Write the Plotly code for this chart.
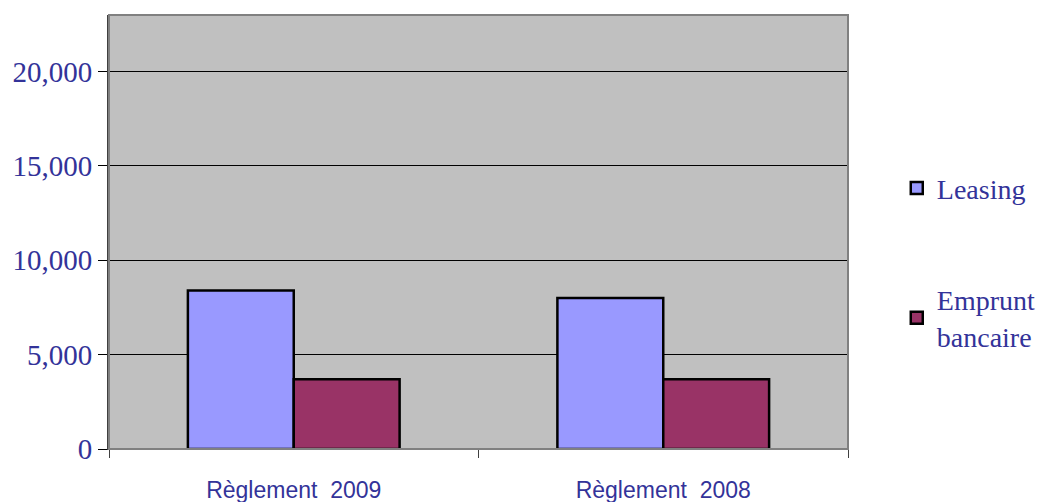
import plotly.graph_objects as go

categories = ["Règlement\u00a0\u00a02009", "Règlement\u00a0\u00a02008"]
leasing = [8400, 8000]
emprunt = [3700, 3700]
series_names = ["Leasing", "Emprunt<br>bancaire"]

BLUE = "#9999FF"
MAROON = "#993366"
TEXT = "#333399"
PLOT_BG = "#C0C0C0"

fig = go.Figure()
for name, vals, color, grp in [
    (series_names[0], leasing, BLUE, "a"),
    (series_names[1], emprunt, MAROON, "b"),
]:
    fig.add_trace(
        go.Bar(
            x=categories,
            y=vals,
            name=name,
            legendgroup=grp,
            marker=dict(color=color, line=dict(color="black", width=2.5)),
        )
    )

fig.update_layout(
    width=1042,
    height=502,
    margin=dict(l=109, r=194, t=15, b=53, autoexpand=False),
    paper_bgcolor="white",
    plot_bgcolor=PLOT_BG,
    barmode="group",
    bargap=0.427,
    bargroupgap=0,
    legend=dict(
        x=1.066,
        y=0.43,
        xanchor="left",
        yanchor="middle",
        font=dict(family="Liberation Serif", size=28, color=TEXT),
        tracegroupgap=72,
        traceorder="grouped",
        itemwidth=30,
    ),
    shapes=[
        dict(
            type="rect", xref="paper", yref="paper", x0=0, x1=1, y0=0, y1=1,
            line=dict(color="#808080", width=2), layer="above",
        )
    ],
)

fig.update_yaxes(
    range=[0, 23000],
    tickvals=[0, 5000, 10000, 15000, 20000],
    tickformat=",d",
    automargin=False,
    showgrid=True,
    gridcolor="black",
    gridwidth=1,
    zeroline=False,
    showline=True,
    linecolor="#404040",
    linewidth=2,
    ticks="outside",
    ticklen=9,
    tickcolor="black",
    tickfont=dict(family="Liberation Serif", size=29, color=TEXT),
)
fig.update_xaxes(
    automargin=False,
    showline=True,
    linecolor="#404040",
    linewidth=1,
    ticks="outside",
    tickson="boundaries",
    ticklen=8,
    tickcolor="#404040",
    ticklabelstandoff=20,
    tickfont=dict(family="Liberation Sans", size=23, color=TEXT),
)

# the page body has a default 8px margin that pushes the figure off the window
fig.write_html(
    "out.html",
    config={"displayModeBar": False},
    post_script="document.body.style.margin = '0';",
)
